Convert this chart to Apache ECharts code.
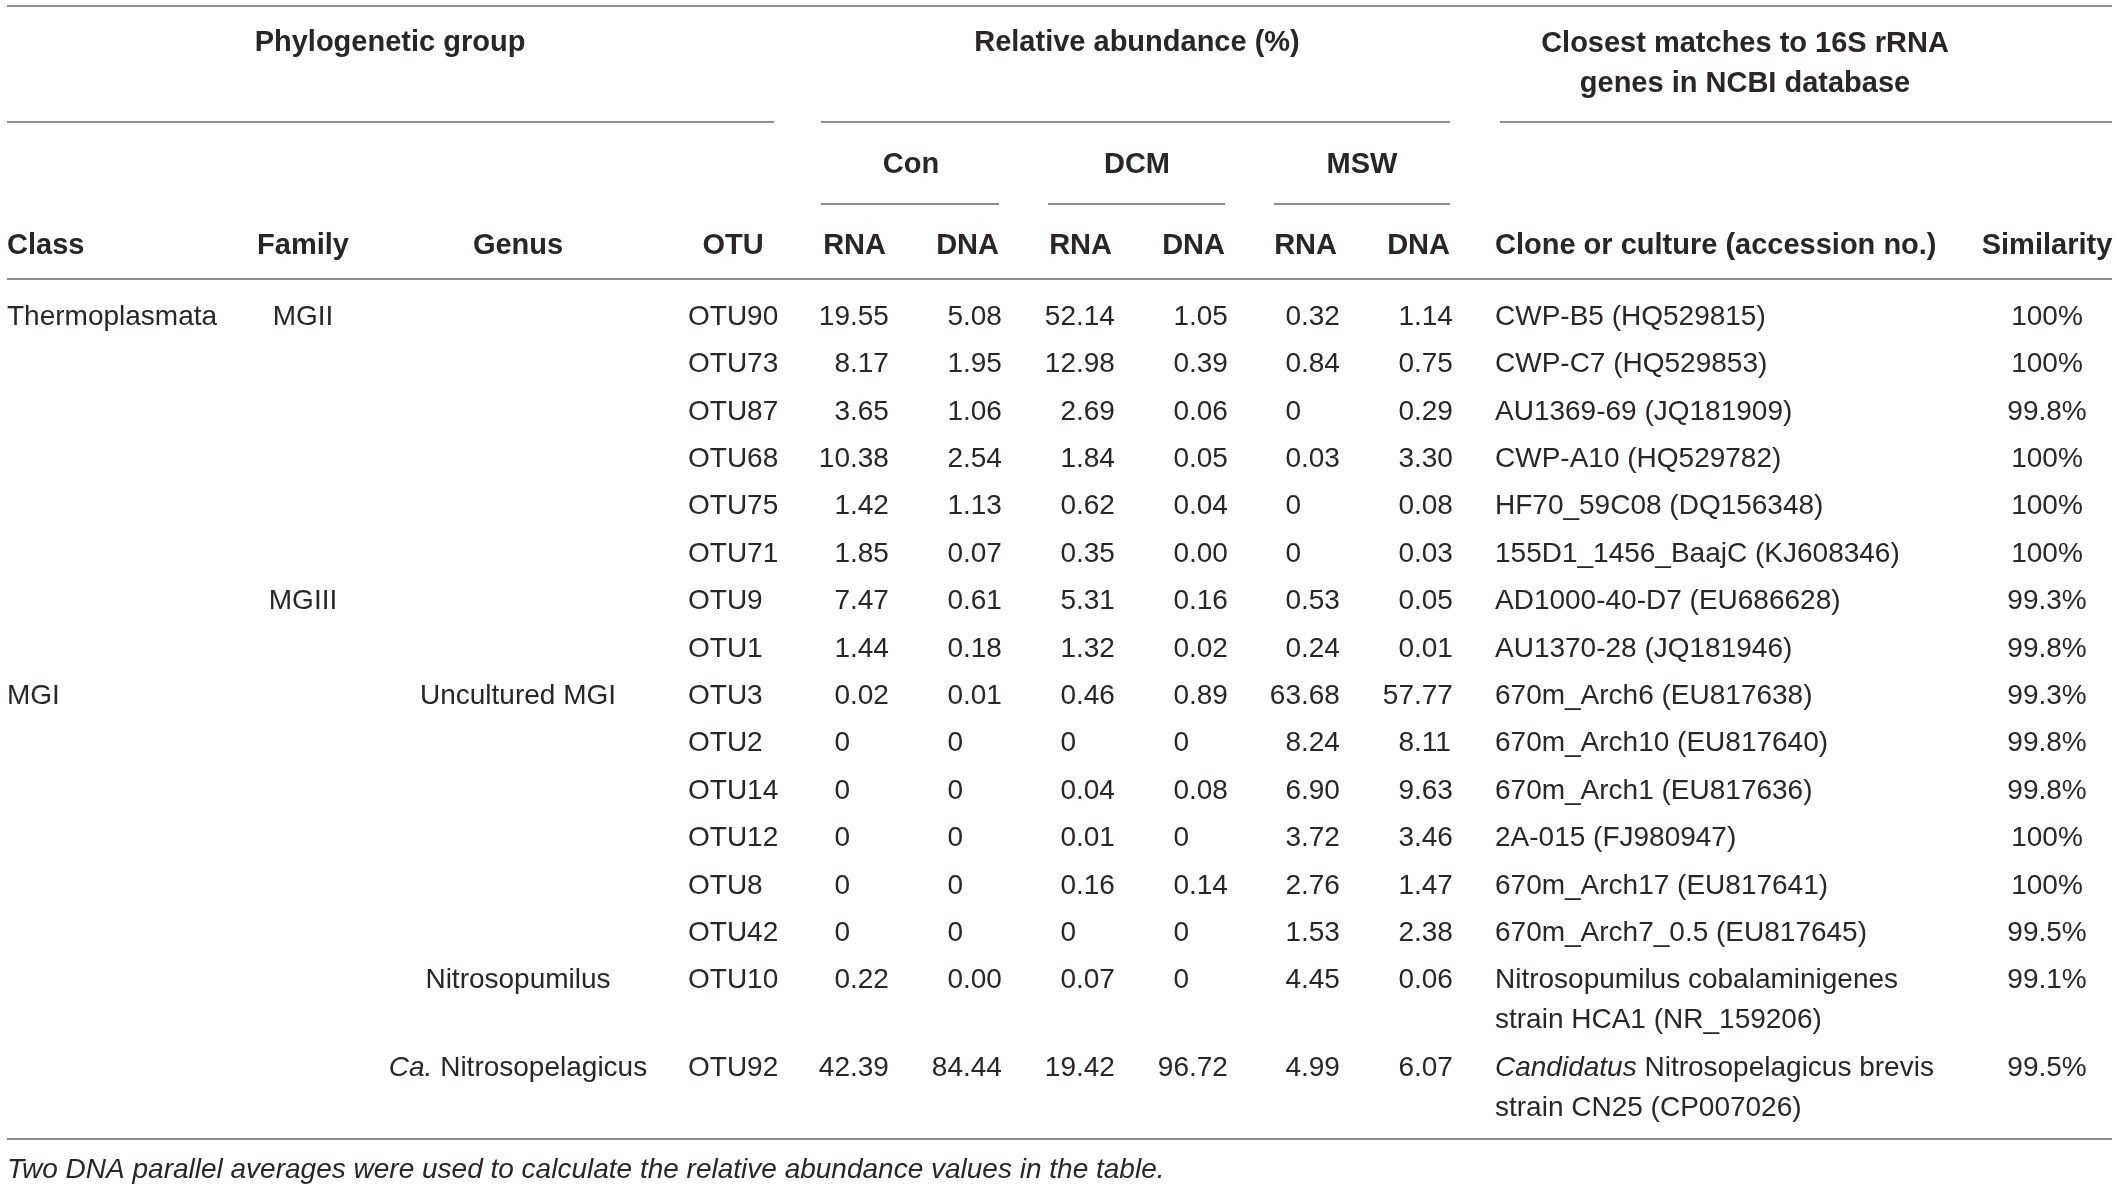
<!DOCTYPE html>
<html>
<head>
<meta charset="utf-8">
<title>Archaeal OTUs</title>
<script src="https://cdn.jsdelivr.net/npm/echarts@6/dist/echarts.min.js"></script>
<style>
html, body { margin: 0; padding: 0; background: #fff; }
#main { width: 2118px; height: 1188px; }
</style>
</head>
<body>
<div id="main"></div>
<script>
// table content
var classNames = ['Thermoplasmata', '', '', '', '', '', '', '', 'MGI', '', '', '', '', '', '', ''];
var familyNames = ['MGII', '', '', '', '', '', 'MGIII', '', '', '', '', '', '', '', '', ''];
var genusNames = ['', '', '', '', '', '', '', '', 'Uncultured MGI', '', '', '', '', '', 'Nitrosopumilus', '{i|Ca.} Nitrosopelagicus'];
var otus = ['OTU90', 'OTU73', 'OTU87', 'OTU68', 'OTU75', 'OTU71', 'OTU9', 'OTU1',
  'OTU3', 'OTU2', 'OTU14', 'OTU12', 'OTU8', 'OTU42', 'OTU10', 'OTU92'];
var conRNA = ['19.55', '8.17', '3.65', '10.38', '1.42', '1.85', '7.47', '1.44', '0.02', '0', '0', '0', '0', '0', '0.22', '42.39'];
var conDNA = ['5.08', '1.95', '1.06', '2.54', '1.13', '0.07', '0.61', '0.18', '0.01', '0', '0', '0', '0', '0', '0.00', '84.44'];
var dcmRNA = ['52.14', '12.98', '2.69', '1.84', '0.62', '0.35', '5.31', '1.32', '0.46', '0', '0.04', '0.01', '0.16', '0', '0.07', '19.42'];
var dcmDNA = ['1.05', '0.39', '0.06', '0.05', '0.04', '0.00', '0.16', '0.02', '0.89', '0', '0.08', '0', '0.14', '0', '0', '96.72'];
var mswRNA = ['0.32', '0.84', '0', '0.03', '0', '0', '0.53', '0.24', '63.68', '8.24', '6.90', '3.72', '2.76', '1.53', '4.45', '4.99'];
var mswDNA = ['1.14', '0.75', '0.29', '3.30', '0.08', '0.03', '0.05', '0.01', '57.77', '8.11', '9.63', '3.46', '1.47', '2.38', '0.06', '6.07'];
var clones = [
  ['CWP-B5 (HQ529815)'], ['CWP-C7 (HQ529853)'], ['AU1369-69 (JQ181909)'], ['CWP-A10 (HQ529782)'],
  ['HF70_59C08 (DQ156348)'], ['155D1_1456_BaajC (KJ608346)'], ['AD1000-40-D7 (EU686628)'], ['AU1370-28 (JQ181946)'],
  ['670m_Arch6 (EU817638)'], ['670m_Arch10 (EU817640)'], ['670m_Arch1 (EU817636)'], ['2A-015 (FJ980947)'],
  ['670m_Arch17 (EU817641)'], ['670m_Arch7_0.5 (EU817645)'],
  ['Nitrosopumilus cobalaminigenes', 'strain HCA1 (NR_159206)'],
  ['{i|Candidatus} Nitrosopelagicus brevis', 'strain CN25 (CP007026)']
];
var similarity = ['100%', '100%', '99.8%', '100%', '100%', '100%', '99.3%', '99.8%',
  '99.3%', '99.8%', '99.8%', '100%', '100%', '99.5%', '99.1%', '99.5%'];

var groupHeads = ['Phylogenetic group', 'Relative abundance (%)'];
var matchHead = ['Closest matches to 16S rRNA', 'genes in NCBI database'];
var sites = ['Con', 'DCM', 'MSW'];
var nucleic = ['RNA', 'DNA'];
var colHeads = ['Class', 'Family', 'Genus', 'OTU', 'Clone or culture (accession no.)', 'Similarity'];
var footnote = 'Two DNA parallel averages were used to calculate the relative abundance values in the table.';

var valueCols = [conRNA, conDNA, dcmRNA, dcmDNA, mswRNA, mswDNA];

// layout
var W = 2118, H = 1188;
var FONT = '"Liberation Sans", Arial, Helvetica, sans-serif';
var FS = 28;
var INK = '#2a2627';
var RULE = '#8e8e8e';
var DY = 2; // canvas 'middle' sits a touch high
var colClass = 7, colFamily = 303, colGenus = 518, colOtu = 688, colOtuHead = 733;
var valRight = [889, 1002, 1115, 1228, 1340, 1453];
var fracW = 39; // width of ".dd"
var colClone = 1495, colSim = 2047;
var firstRowY = 315, rowPitch = 47.4, lineH = 40;

function rowY(i) {
  var extra = 0;
  for (var k = 0; k < i; k++) extra += clones[k].length - 1;
  return firstRowY + i * rowPitch + extra * lineH;
}

var richI = { i: { fontStyle: 'italic', fontFamily: FONT, fontSize: FS, fill: INK } };

function txt(x, y, s, align, opts) {
  opts = opts || {};
  return {
    type: 'text',
    x: x, y: y + DY,
    style: {
      text: s,
      fill: INK,
      fontFamily: FONT,
      fontSize: opts.size || FS,
      fontWeight: opts.bold ? 'bold' : 'normal',
      fontStyle: opts.italic ? 'italic' : 'normal',
      textAlign: align,
      textVerticalAlign: 'middle',
      rich: opts.bold ? undefined : richI
    },
    silent: true
  };
}

function rule(api, y, x1, x2) {
  var a = api.coord([x1, y]), b = api.coord([x2, y]);
  return { type: 'line', shape: { x1: a[0], y1: a[1], x2: b[0], y2: b[1] },
    style: { stroke: RULE, lineWidth: 2 }, silent: true };
}

function renderRow(params, api) {
  var i = api.value(2);
  var y = api.coord([0, api.value(1)])[1];
  var X = function (v) { return api.coord([v, 0])[0]; };
  var kids = [];
  if (classNames[i]) kids.push(txt(X(colClass), y, classNames[i], 'left'));
  if (familyNames[i]) kids.push(txt(X(colFamily), y, familyNames[i], 'center'));
  if (genusNames[i]) kids.push(txt(X(colGenus), y, genusNames[i], 'center'));
  kids.push(txt(X(colOtu), y, otus[i], 'left'));
  // decimal-aligned numbers
  valueCols.forEach(function (col, c) {
    var s = col[i];
    var dot = s.indexOf('.');
    var decX = X(valRight[c] - fracW);
    kids.push(txt(decX, y, dot < 0 ? s : s.slice(0, dot), 'right'));
    if (dot >= 0) kids.push(txt(decX, y, s.slice(dot), 'left'));
  });
  clones[i].forEach(function (line, k) {
    var yy = api.coord([0, api.value(1) + k * lineH])[1];
    kids.push(txt(X(colClone), yy, line, 'left'));
  });
  kids.push(txt(X(colSim), y, similarity[i], 'center'));
  return { type: 'group', children: kids };
}

function renderHead(params, api) {
  var X = function (v) { return api.coord([v, 0])[0]; };
  var Y = function (v) { return api.coord([0, v])[1]; };
  var B = { bold: true, size: 29 };
  var kids = [];
  kids.push(txt(X(390), Y(41), groupHeads[0], 'center', B));
  kids.push(txt(X(1137), Y(41), groupHeads[1], 'center', B));
  kids.push(txt(X(1745), Y(42), matchHead[0], 'center', B));
  kids.push(txt(X(1745), Y(82), matchHead[1], 'center', B));
  var siteX = [911, 1137, 1362];
  sites.forEach(function (s, k) { kids.push(txt(X(siteX[k]), Y(163), s, 'center', B)); });
  var hy = Y(244);
  kids.push(txt(X(colClass), hy, colHeads[0], 'left', B));
  kids.push(txt(X(colFamily), hy, colHeads[1], 'center', B));
  kids.push(txt(X(colGenus), hy, colHeads[2], 'center', B));
  kids.push(txt(X(colOtuHead), hy, colHeads[3], 'center', B));
  valRight.forEach(function (r, c) { kids.push(txt(X(r - 3), hy, nucleic[c % 2], 'right', B)); });
  kids.push(txt(X(colClone), hy, colHeads[4], 'left', B));
  kids.push(txt(X(colSim), hy, colHeads[5], 'center', B));

  // rules
  kids.push(rule(api, 6, 7, 2112));
  kids.push(rule(api, 122, 7, 774));
  kids.push(rule(api, 122, 821, 1450));
  kids.push(rule(api, 122, 1500, 2112));
  kids.push(rule(api, 204, 821, 999));
  kids.push(rule(api, 204, 1048, 1225));
  kids.push(rule(api, 204, 1274, 1450));
  kids.push(rule(api, 279, 7, 2112));
  kids.push(rule(api, 1139, 7, 2112));

  kids.push(txt(X(7), Y(1168), footnote, 'left', { italic: true }));
  return { type: 'group', children: kids };
}

var chart = echarts.init(document.getElementById('main'));
chart.setOption({
  animation: false,
  grid: { left: 0, right: 0, top: 0, bottom: 0 },
  xAxis: { type: 'value', min: 0, max: W, show: false },
  yAxis: { type: 'value', min: 0, max: H, inverse: true, show: false },
  series: [
    {
      type: 'custom',
      name: 'header',
      renderItem: renderHead,
      data: [[0, 0]],
      silent: true
    },
    {
      type: 'custom',
      name: 'rows',
      renderItem: renderRow,
      encode: { x: 0, y: 1 },
      data: otus.map(function (o, i) { return [0, rowY(i), i]; }),
      silent: true
    }
  ]
});
</script>
</body>
</html>
